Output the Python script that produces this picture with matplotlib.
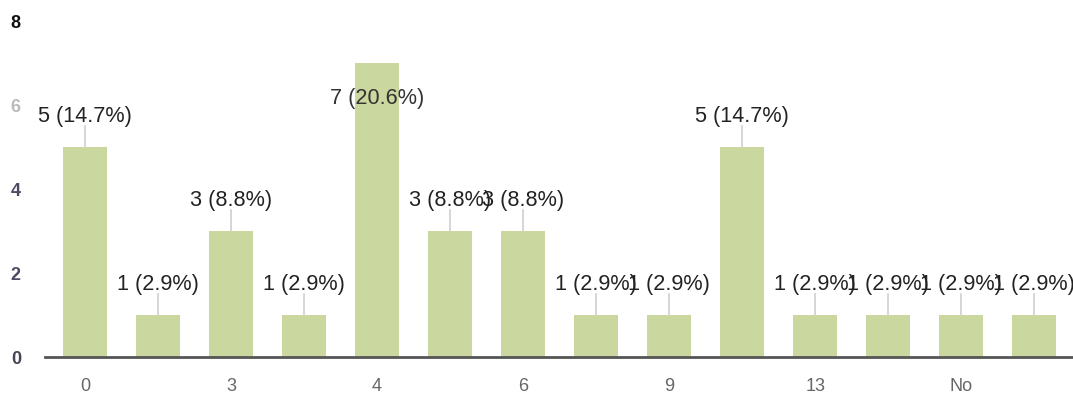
import matplotlib
matplotlib.use("Agg")
import matplotlib.pyplot as plt

# ---- data ----
categories = ["0", "", "3", "", "4", "", "6", "", "9", "", "13", "", "No", ""]
counts = [5, 1, 3, 1, 7, 3, 3, 1, 1, 5, 1, 1, 1, 1]
total = sum(counts)
y_ticks = [0, 2, 4, 6, 8]
y_tick_labels = ["0", "2", "4", "6", "8"]

plt.rcParams["font.family"] = ["Liberation Sans", "DejaVu Sans"]

W, H = 1073, 401
fig = plt.figure(figsize=(W / 100, H / 100), dpi=100)
ax = fig.add_axes([45 / W, (H - 357) / H, 1 - 45 / W, (357 - 21) / H])

x = list(range(len(counts)))
bar_color = "#cad79f"
ax.bar(x, counts, width=0.6, color=bar_color, zorder=2)

ax.set_xlim(-0.548, 13.53)
ax.set_ylim(0, 8)

# value labels with leader lines
for xi, v in zip(x, counts):
    txt = f"{v} ({v / total * 100:.1f}%)"
    if v + 0.75 > 7:
        ly = v - 0.85
        ax.text(xi, ly, txt, ha="center", va="center", fontsize=15.6,
                color="#333333", zorder=4, clip_on=False)
    else:
        ly = v + 0.72
        ax.plot([xi, xi], [v, ly - 0.22], color="#d0d0d0", lw=1.2, zorder=3)
        ax.text(xi, ly, txt, ha="center", va="center", fontsize=15.6,
                color="#222222", zorder=4)

# axes styling
for s in ["top", "right", "left"]:
    ax.spines[s].set_visible(False)
ax.spines["bottom"].set_color("#555555")
ax.spines["bottom"].set_linewidth(2)
ax.spines["bottom"].set_zorder(5)

ax.set_xticks(x)
ax.set_xticklabels(categories, fontsize=13, color="#666666")
ax.tick_params(axis="x", length=0, pad=15)

ax.set_yticks(y_ticks)
ax.set_yticklabels(y_tick_labels, fontsize=13, fontweight="bold")
ycolors = ["#444455", "#4b4b66", "#4b4b66", "#bbbbbb", "#111111"]
for lbl, c in zip(ax.get_yticklabels(), ycolors):
    lbl.set_color(c)
    lbl.set_horizontalalignment("center")
ax.tick_params(axis="y", length=0, pad=21)

fig.savefig("out.png", dpi=100)
